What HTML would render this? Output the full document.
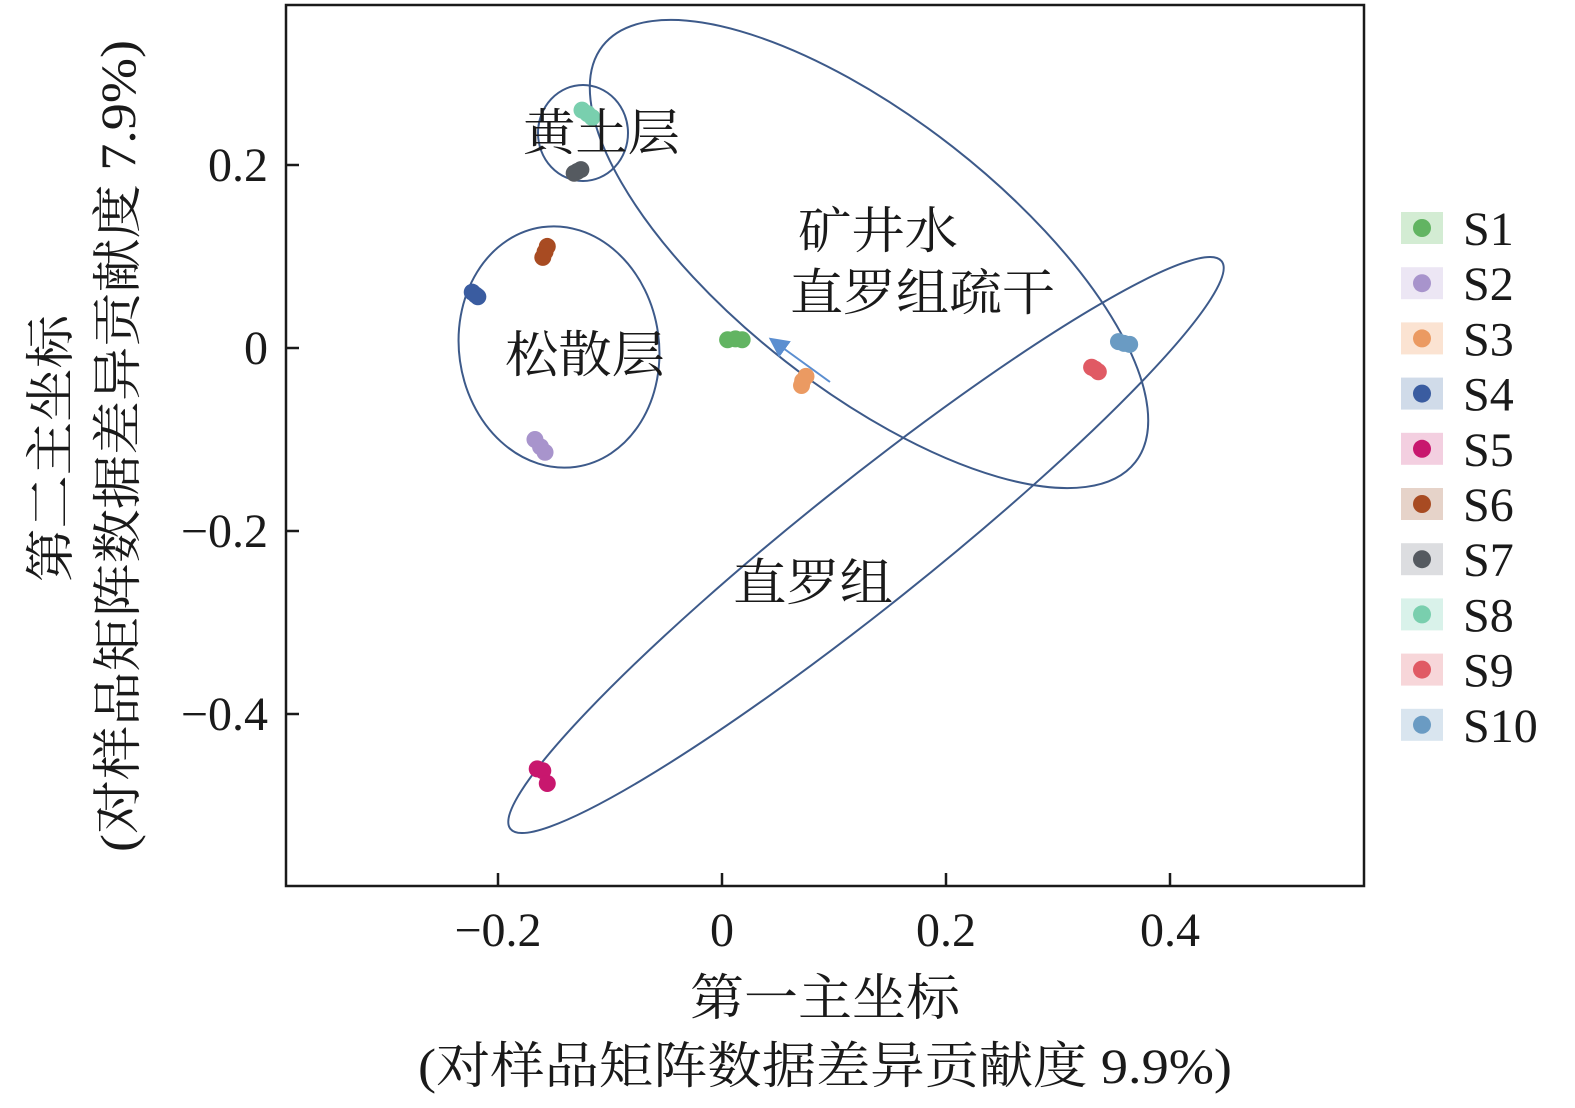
<!DOCTYPE html>
<html><head><meta charset="utf-8"><style>
body{margin:0;background:#fff;}
svg{display:block;font-family:"Liberation Serif","Noto Serif CJK SC",serif;}
</style></head><body>
<svg id="chart" width="1575" height="1108" viewBox="0 0 1575 1108">
<defs><marker id="ah" markerWidth="10" markerHeight="10" refX="8" refY="5" orient="auto"><path d="M0,0 L10,5 L0,10 Z" fill="#5b8ed0"/></marker></defs>
<rect x="286" y="5" width="1078" height="881" fill="none" stroke="#1a1a1a" stroke-width="2.5"/>
<g id="ticks"></g>
<g id="ellipses" fill="none" stroke="#3d5a8a" stroke-width="2">
<ellipse cx="583" cy="133" rx="45" ry="48"/>
<ellipse cx="559" cy="347" rx="100" ry="121" transform="rotate(-8 559 347)"/>
<ellipse cx="869" cy="254" rx="338" ry="136" transform="rotate(38 869 254)"/>
<ellipse cx="866" cy="545" rx="455" ry="62" transform="rotate(-38.6 866 545)"/>
</g>
<line x1="830" y1="382" x2="772" y2="340" stroke="#5b8ed0" stroke-width="2" marker-end="url(#ah)"/>
<g id="points"></g>
<g font-size="50" fill="#1a1a1a" lengthAdjust="spacingAndGlyphs">
<text x="523" y="150" textLength="157" lengthAdjust="spacingAndGlyphs">黄土层</text>
<text x="798" y="248" textLength="160" lengthAdjust="spacingAndGlyphs">矿井水</text>
<text x="790" y="310" textLength="265" lengthAdjust="spacingAndGlyphs">直罗组疏干</text>
<text x="505" y="372" textLength="160" lengthAdjust="spacingAndGlyphs">松散层</text>
<text x="733" y="600" textLength="160" lengthAdjust="spacingAndGlyphs">直罗组</text>
<text x="690" y="1015" textLength="270" lengthAdjust="spacingAndGlyphs">第一主坐标</text>
<text x="418" y="1083" textLength="814" lengthAdjust="spacingAndGlyphs">(对样品矩阵数据差异贡献度 9.9%)</text>
<text transform="translate(68,582) rotate(-90)" textLength="267" lengthAdjust="spacingAndGlyphs">第二主坐标</text>
<text transform="translate(135,852) rotate(-90)" textLength="812" lengthAdjust="spacingAndGlyphs">(对样品矩阵数据差异贡献度 7.9%)</text>
</g>
<g id="legend"></g>
</svg>
<script>
const xTicks=[-0.2,0,0.2,0.4];
const yTicks=[0.2,0,-0.2,-0.4];
const samples=["S1","S2","S3","S4","S5","S6","S7","S8","S9","S10"];
const colors=["#62b462","#a894cc","#eb9a62","#3a5ca0","#c8176e","#a84b22","#555a60","#79cfae","#e05a64","#6a9bc3"];
const bgColors=["#d3ecd3","#ece6f4","#fbe3d2","#d0dbe9","#f3cfe0","#e6d3c9","#dcdde0","#d9f2ea","#f7d6d9","#d9e5ef"];
const xs=[[0.005,0.012,0.018],[-0.167,-0.162,-0.158],[0.075,0.072,0.071],[-0.223,-0.220,-0.218],[-0.165,-0.160,-0.156],[-0.156,-0.158,-0.160],[-0.132,-0.129,-0.126],[-0.125,-0.120,-0.116],[0.330,0.333,0.336],[0.354,0.359,0.364]];
const ys=[[0.009,0.010,0.009],[-0.100,-0.108,-0.114],[-0.031,-0.036,-0.041],[0.061,0.058,0.056],[-0.460,-0.462,-0.476],[0.111,0.105,0.099],[0.191,0.193,0.195],[0.260,0.256,0.252],[-0.021,-0.023,-0.026],[0.007,0.005,0.004]];
const NS="http://www.w3.org/2000/svg";
const X=v=>722+v*1120, Y=v=>348-v*915;
function mk(t,a,p){const e=document.createElementNS(NS,t);for(const k in a)e.setAttribute(k,a[k]);p.appendChild(e);return e;}
const tg=document.getElementById('ticks');
xTicks.forEach(v=>{
 const l=mk('line',{x1:X(v),x2:X(v),y1:886,y2:873,stroke:'#1a1a1a','stroke-width':2.5},tg);
 
 
 const t=mk('text',{x:X(v),y:946,'text-anchor':'middle','font-size':48,fill:'#1a1a1a'},tg);
 t.textContent=v===0?'0':(v<0?'−':'')+Math.abs(v).toFixed(1);
 
 
});
yTicks.forEach(v=>{
 const l=mk('line',{x1:286,x2:299,y1:Y(v),y2:Y(v),stroke:'#1a1a1a','stroke-width':2.5},tg);
 
 
 const t=mk('text',{x:268,y:Y(v)+16,'text-anchor':'end','font-size':48,fill:'#1a1a1a'},tg);
 t.textContent=v===0?'0':(v<0?'−':'')+Math.abs(v).toFixed(1);
 
 
});
const pg=document.getElementById('points');
samples.forEach((s,i)=>{
 xs[i].forEach((xv,j)=>{
  const c=mk('circle',{cx:X(xv),cy:Y(ys[i][j]),r:8.5,fill:colors[i]},pg);
  
  
 });
});
const lg=document.getElementById('legend');
samples.forEach((s,i)=>{
 const y=228+i*55.2;
 const r=mk('rect',{x:1401,y:y-16,width:42,height:32,fill:bgColors[i]},lg);
 
 
 const c=mk('circle',{cx:1422,cy:y,r:9,fill:colors[i]},lg);
 
 
 const t=mk('text',{x:1463,y:y+17,'font-size':48,fill:'#1a1a1a'},lg);
 t.textContent=s;
 
 
});
</script>
</body></html>
